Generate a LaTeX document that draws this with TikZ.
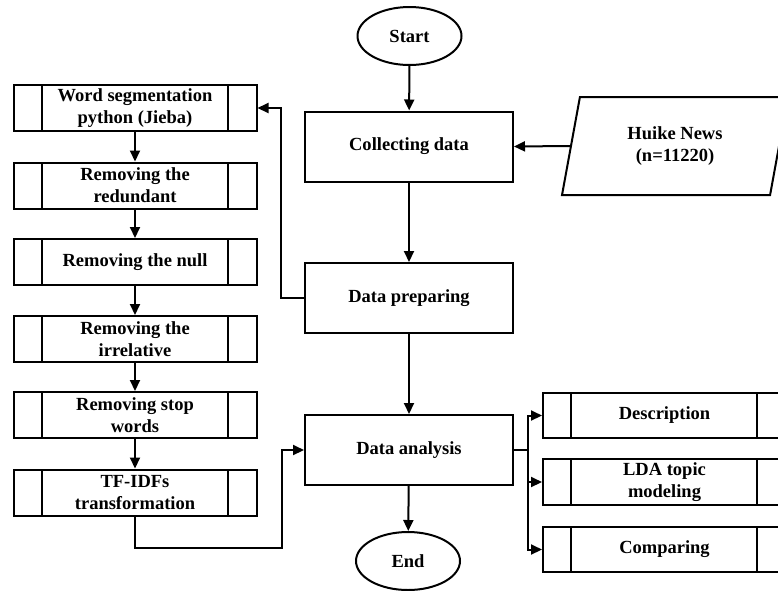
\documentclass[tikz,border=0pt]{standalone}
\usepackage{fontspec}
\setmainfont{Liberation Serif}
\usetikzlibrary{arrows.meta,shapes.geometric}
\tikzset{
  lw/.style={line width=2pt},
  txt/.style={font=\bfseries\fontsize{18.5}{22}\selectfont, align=center, inner sep=0pt},
  mainbox/.style={lw, draw, txt, minimum width=208pt, minimum height=70pt},
  procbox/.style={lw, draw, txt, minimum width=243pt, minimum height=46pt,
    path picture={
      \draw[lw] ([xshift=28pt]path picture bounding box.north west) -- ([xshift=28pt]path picture bounding box.south west);
      \draw[lw] ([xshift=-29pt]path picture bounding box.north east) -- ([xshift=-29pt]path picture bounding box.south east);
    }},
  term/.style={lw, draw, ellipse, txt, minimum width=104pt, minimum height=58pt},
  arr/.style={lw, -{Triangle[length=11pt,width=10pt]}},
  conn/.style={lw}
}
\begin{document}
\begin{tikzpicture}[x=1pt,y=-1pt]
\useasboundingbox (0,0) rectangle (778,590);
\fill[white] (0,0) rectangle (778,590);
\clip (0,0) rectangle (778,590);

% main column
\node[term] (start) at (409.5,36) {Start};
\node[mainbox] (collect) at (409,146.5) {Collecting data};
\node[mainbox] (prep) at (409,298) {Data preparing};
\node[mainbox] (ana) at (409,450) {Data analysis};
\node[term] (end) at (408,561) {End};

% data source
\node[lw, draw, trapezium, trapezium left angle=77, trapezium right angle=103,
  trapezium stretches=true, minimum width=226pt, minimum height=98pt, txt] (news) at (675,146) {Huike News\\(n=11220)};

% left column
\node[procbox] (b1) at (135,108) {Word segmentation\\python (Jieba)};
\node[procbox] (b2) at (135,185.5) {Removing the\\redundant};
\node[procbox] (b3) at (135,262) {Removing the null};
\node[procbox] (b4) at (135,339) {Removing the\\irrelative};
\node[procbox] (b5) at (135,415) {Removing stop\\words};
\node[procbox] (b6) at (135,492.5) {TF-IDFs\\transformation};

% right column
\node[procbox, minimum height=45pt] (desc) at (664.5,415.5) {Description};
\node[procbox] (lda) at (664.5,482) {LDA topic\\modeling};
\node[procbox, minimum height=45pt] (comp) at (664.5,549.5) {Comparing};

% main flow
\draw[arr] (start) -- (collect);
\draw[arr] (collect) -- (prep);
\draw[arr] (prep) -- (ana);
\draw[arr] (ana) -- (end);
\draw[arr] (news.west) -- (collect.east);

% preprocessing loop
\coordinate (pl) at (281,298);
\draw[arr] (prep.west) -- (pl) |- (b1.east);
\draw[arr] (b1) -- (b2);
\draw[arr] (b2) -- (b3);
\draw[arr] (b3) -- (b4);
\draw[arr] (b4) -- (b5);
\draw[arr] (b5) -- (b6);
\coordinate (bl) at (135,548);
\coordinate (br) at (282,548);
\draw[arr] (b6.south) -- (bl) -- (br) |- (ana.west);

% analysis branches
\coordinate (j) at (528,450);
\draw[conn] (ana.east) -- (j);
\draw[arr] (j) |- (desc.west);
\draw[arr] (j) |- (lda.west);
\draw[arr] (j) |- (comp.west);
\end{tikzpicture}
\end{document}
